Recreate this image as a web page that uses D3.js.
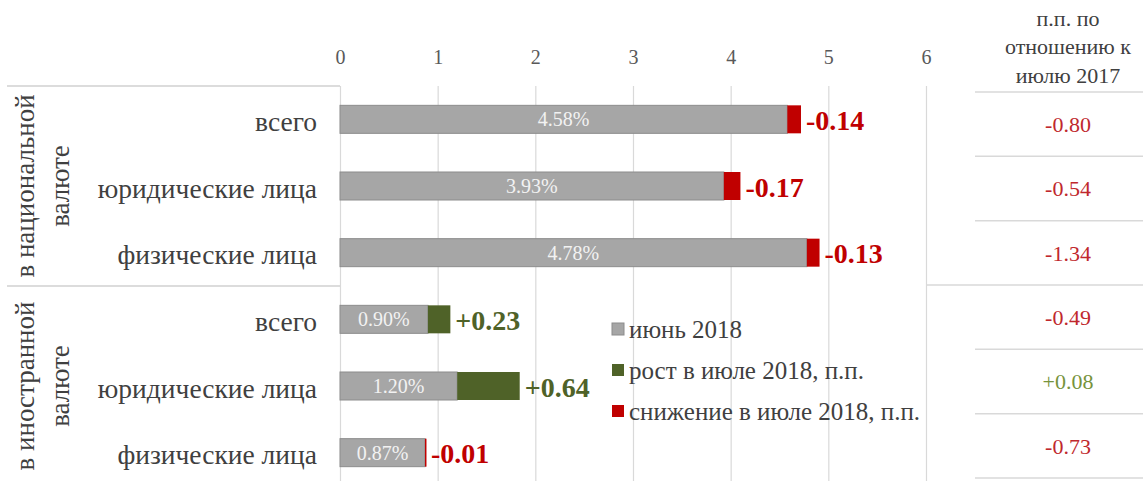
<!DOCTYPE html>
<html lang="ru"><head><meta charset="utf-8">
<script src="https://cdn.jsdelivr.net/npm/d3@7"></script>
<style>
body{margin:0;background:#fff;}
svg{display:block;}
</style></head>
<body><svg id="c" width="1143" height="481"></svg>
<script>
const groupLabels = [["в национальной","валюте"],["в иностранной","валюте"]];
const groupOf = [0,0,0,1,1,1];
const categories = ["всего","юридические лица","физические лица","всего","юридические лица","физические лица"];
const june2018 = [4.58,3.93,4.78,0.90,1.20,0.87];
const julyChange = [-0.14,-0.17,-0.13,0.23,0.64,-0.01];
const vsJuly2017 = [-0.80,-0.54,-1.34,-0.49,0.08,-0.73];
const xTicks = [0,1,2,3,4,5,6];
const legendLabels = ["июнь 2018","рост в июле 2018, п.п.","снижение в июле 2018, п.п."];
const tableHeader = ["п.п. по","отношению к","июлю 2017"];

const FONT="font-family:'Liberation Serif', serif";
const colGrey="#a6a6a6", colRed="#c00000", colGreen="#4f6228", txt="#404040";
const svg=d3.select("#c");
const idx=d3.range(categories.length);
const x=d3.scaleLinear().domain([0,6]).range([340,926]);
const y=d3.scaleBand().domain(idx).range([86,486]).paddingInner(0.58).paddingOuter(0.29);
const yt=d3.scaleBand().domain(idx).range([92,478]);
const fmt=v=>d3.format(".2f")(v).replace("\u2212","-");
const sgn=v=>(v>0?"+":"")+fmt(v);

const gAx=svg.append("g").attr("transform","translate(0,86)")
  .call(d3.axisTop(x).tickValues(xTicks).tickSize(-395).tickFormat(d3.format("d")));
gAx.select(".domain").remove();
gAx.selectAll(".tick line").attr("stroke","#d9d9d9").attr("stroke-width",1.2);
gAx.selectAll(".tick text").attr("y",-22).attr("style",FONT+";font-size:20px").attr("fill","#595959");

const sepY=y(3)-(y.step()-y.bandwidth())/2;
svg.append("line").attr("x1",7).attr("x2",340).attr("y1",86).attr("y2",86).attr("stroke","#d0d0d0").attr("stroke-width",1.5);
svg.append("line").attr("x1",7).attr("x2",340).attr("y1",sepY).attr("y2",sepY).attr("stroke","#d0d0d0").attr("stroke-width",1.5);

svg.append("g").selectAll("rect").data(idx).join("rect")
  .attr("x",x(0)).attr("y",i=>y(i)).attr("width",i=>x(june2018[i])-x(0)).attr("height",y.bandwidth())
  .attr("fill",colGrey).attr("stroke","#8c8c8c").attr("stroke-width",1);
svg.append("g").selectAll("rect").data(idx).join("rect")
  .attr("x",i=>x(june2018[i])).attr("y",i=>y(i))
  .attr("width",i=>Math.max(1.5,x(Math.abs(julyChange[i]))-x(0))).attr("height",y.bandwidth())
  .attr("fill",i=>julyChange[i]>0?colGreen:colRed);

svg.append("g").selectAll("text").data(idx).join("text")
  .attr("x",i=>(x(0)+x(june2018[i]))/2).attr("y",i=>y(i)+y.bandwidth()/2).attr("dy","0.35em")
  .attr("text-anchor","middle").attr("style",FONT+";font-size:20px").attr("fill","#f2f2f2")
  .text(i=>fmt(june2018[i])+"%");
svg.append("g").selectAll("text").data(idx).join("text")
  .attr("x",i=>x(june2018[i]+Math.abs(julyChange[i]))+5).attr("y",i=>y(i)+y.bandwidth()/2+1).attr("dy","0.35em")
  .attr("style",FONT+";font-size:28px;font-weight:bold").attr("fill",i=>julyChange[i]>0?colGreen:colRed)
  .text(i=>sgn(julyChange[i]));

svg.append("g").selectAll("text").data(idx).join("text")
  .attr("x",317).attr("y",i=>y(i)+y.bandwidth()/2+2).attr("dy","0.35em")
  .attr("text-anchor","end").attr("style",FONT+";font-size:27.5px").attr("fill",txt).text(i=>categories[i]);

groupLabels.forEach((lines,g)=>{
  const members=idx.filter(i=>groupOf[i]===g);
  const cy=(y(members[0])+y(members[members.length-1])+y.bandwidth())/2;
  lines.forEach((t,k)=>{
    svg.append("text").attr("transform",`translate(${25+k*35},${cy}) rotate(-90)`)
      .attr("text-anchor","middle").attr("dy","0.35em").attr("style",FONT+";font-size:27px").attr("fill",txt).text(t);
  });
});

const lg=svg.append("g").attr("transform","translate(612,329)");
legendLabels.forEach((t,k)=>{
  const c=[colGrey,colGreen,colRed][k];
  lg.append("rect").attr("x",0).attr("y",k*41-6).attr("width",12).attr("height",12).attr("fill",c)
    .attr("stroke",k===0?"#8c8c8c":"none");
  lg.append("text").attr("x",17).attr("y",k*41).attr("dy","0.35em").attr("style",FONT+";font-size:25px").attr("fill",txt).text(t);
});

tableHeader.forEach((t,k)=>{
  svg.append("text").attr("x",1068).attr("y",18+k*28.5).attr("dy","0.35em").attr("text-anchor","middle")
    .attr("style",FONT+";font-size:22px").attr("fill",txt).text(t);
});
const bounds=idx.map(i=>yt(i)).concat([yt(idx.length-1)+yt.bandwidth()]);
svg.append("g").selectAll("line").data(bounds).join("line")
  .attr("x1",(d,k)=>k===3?926:975).attr("x2",1143).attr("y1",d=>d).attr("y2",d=>d)
  .attr("stroke","#d9d9d9").attr("stroke-width",1.5);
svg.append("g").selectAll("text").data(idx).join("text")
  .attr("x",1068).attr("y",i=>yt(i)+yt.bandwidth()/2).attr("dy","0.35em").attr("text-anchor","middle")
  .attr("style",FONT+";font-size:22px").attr("fill",i=>vsJuly2017[i]>0?"#77933c":"#c0282d").text(i=>sgn(vsJuly2017[i]));
</script></body></html>
